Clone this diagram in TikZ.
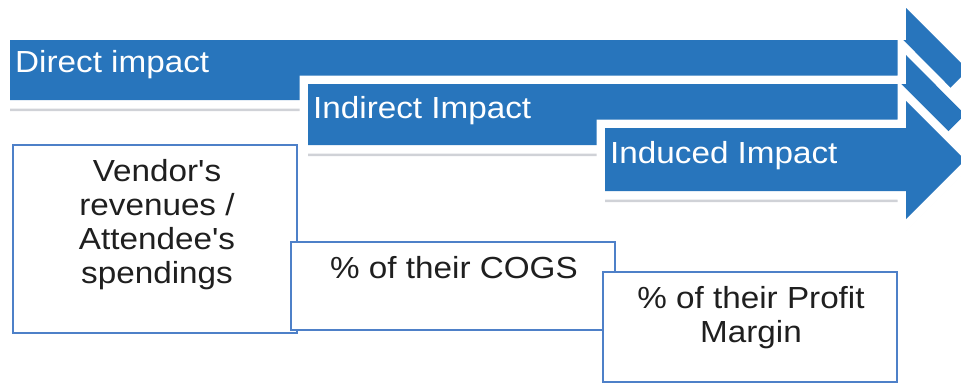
\documentclass[tikz,border=0pt]{standalone}
\usepackage{fontspec}
\setmainfont{Liberation Sans}[FakeStretch=1.09, Ligatures=TeXOff]
\definecolor{arrowblue}{RGB}{40,117,188}
\definecolor{boxblue}{RGB}{78,128,200}
\definecolor{shadowgray}{RGB}{208,210,215}
\begin{document}
\begin{tikzpicture}[x=1pt,y=-1pt,
  arrowshape/.style={fill=arrowblue, preaction={draw=white, line width=17pt, line join=miter}},
  shadowshape/.style={fill=shadowgray},
  arrowtext/.style={text=white, font=\fontsize{30.5}{34}\selectfont, anchor=base west, inner sep=0pt},
  boxshape/.style={draw=boxblue, line width=2pt, fill=white},
  boxtext/.style={text=black!88, font=\fontsize{30.5}{34}\selectfont, align=center, anchor=base, inner sep=0pt}]
\useasboundingbox (0,0) rectangle (961,384);
\begin{scope}
\clip (0,0) rectangle (961,384);
% arrow 1
\fill[shadowshape, yshift=-11pt] (10,40) -- (906,40) -- (906,8) -- (968,70) -- (906,132) -- (906,100) -- (10,100) -- cycle;
\path[arrowshape] (10,40) -- (906,40) -- (906,8) -- (968,70) -- (906,132) -- (906,100) -- (10,100) -- cycle;
\node[arrowtext] (l1) at (15,72) {Direct impact};
% arrow 2
\fill[shadowshape, yshift=-11pt] (308,84) -- (906,84) -- (906,55) -- (965,114.5) -- (906,174) -- (906,145) -- (308,145) -- cycle;
\path[arrowshape] (308,84) -- (906,84) -- (906,55) -- (965,114.5) -- (906,174) -- (906,145) -- (308,145) -- cycle;
\node[arrowtext] (l2) at (313,118) {Indirect Impact};
% arrow 3
\fill[shadowshape, yshift=-11pt] (605,128) -- (906,128) -- (906,101) -- (965,160) -- (906,219) -- (906,191) -- (605,191) -- cycle;
\path[arrowshape] (605,128) -- (906,128) -- (906,101) -- (965,160) -- (906,219) -- (906,191) -- (605,191) -- cycle;
\node[arrowtext] (l3) at (610,163) {Induced Impact};
% boxes
\draw[boxshape] (13,145) rectangle (297,333);
\node[boxtext] (t1) at (157,283) {Vendor's\\revenues /\\Attendee's\\spendings};
\draw[boxshape] (291,242) rectangle (615,330);
\node[boxtext] (t2) at (454,278) {\% of their COGS};
\draw[boxshape] (603,272) rectangle (897,382);
\node[boxtext] (t3) at (751,342) {\% of their Profit\\Margin};
\end{scope}
\end{tikzpicture}
\end{document}
